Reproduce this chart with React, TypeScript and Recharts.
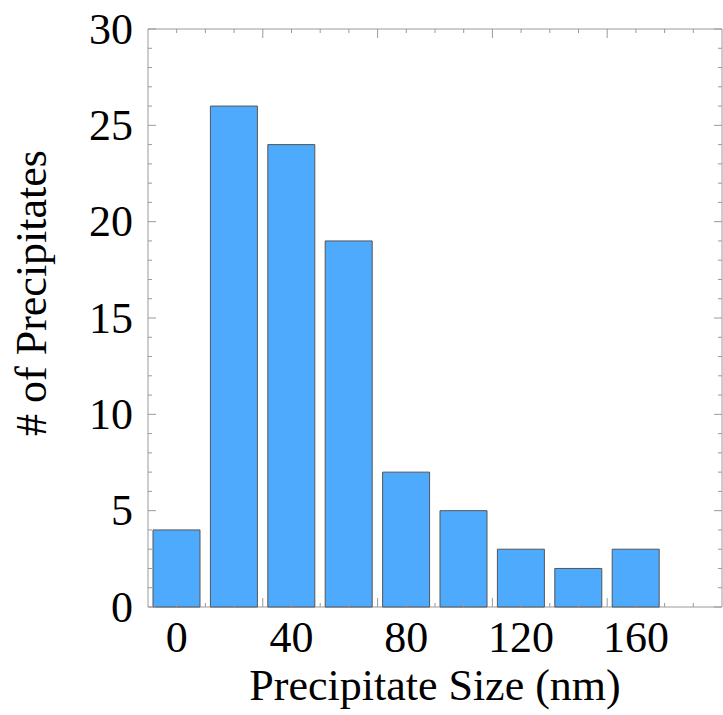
import React from 'react';
import { ComposedChart, Bar, Line, XAxis, YAxis, ReferenceArea, Label } from 'recharts';

// bin centres (nm) and counts; last bin is empty
const sizes = [0, 20, 40, 60, 80, 100, 120, 140, 160, 180];
const counts = [4, 26, 24, 19, 7, 5, 3, 2, 3, null];

const xLabelTicks = [0, 40, 80, 120, 160];
const xFrameTicks = [0, 10, 20, 30, 40, 50, 60, 70, 80, 90, 100, 110, 120, 130, 140, 150, 160, 170, 180];
const xMajorTicks = [30, 70, 110, 150];
const yTicks = [0, 1, 2, 3, 4, 5, 6, 7, 8, 9, 10, 11, 12, 13, 14, 15, 16, 17, 18, 19, 20, 21, 22, 23, 24, 25, 26, 27, 28, 29, 30];

const data = sizes.map((s, i) => ({ size: s, count: counts[i] }));

const W = 723;
const H = 715;
const LEFT = 148;
const RIGHT = 722;
const TOP = 29;
const BOTTOM = 607;
const FONT = '"Liberation Serif", "Times New Roman", serif';
const FRAME = '#9a9a9a';

const YTick = (props: any) => {
  const { y, payload } = props;
  const major = payload.value % 5 === 0;
  const len = major ? 8 : 4;
  return (
    <g>
      <line x1={LEFT} x2={LEFT + len} y1={y} y2={y} stroke={FRAME} />
      <line x1={RIGHT - len} x2={RIGHT} y1={y} y2={y} stroke={FRAME} />
      {major && (
        <text x={133} y={y} textAnchor="end" dominantBaseline="central" fontSize={44} fontFamily={FONT} fill="#000">
          {payload.value}
        </text>
      )}
    </g>
  );
};

const FrameXTick = (props: any) => {
  const { x, payload } = props;
  const len = xMajorTicks.includes(payload.value) ? 9 : 4;
  return (
    <g>
      <line x1={x} x2={x} y1={TOP} y2={TOP + len} stroke={FRAME} />
      <line x1={x} x2={x} y1={BOTTOM - len} y2={BOTTOM} stroke={FRAME} />
    </g>
  );
};

const LabelXTick = (props: any) => {
  const { x, payload } = props;
  if (!xLabelTicks.includes(payload.value)) return null;
  return (
    <text x={x} y={652} textAnchor="middle" fontSize={44} fontFamily={FONT} fill="#000">
      {payload.value}
    </text>
  );
};

export default function App() {
  return (
    <div style={{ position: 'absolute', left: 0, top: 0, background: '#fff' }}>
      <ComposedChart width={W} height={H} data={data} margin={{ top: TOP - 1, right: W - RIGHT, bottom: 0, left: 0 }}>
        <XAxis
          dataKey="size"
          type="category"
          height={H - BOTTOM}
          axisLine={false}
          tickLine={false}
          tick={<LabelXTick />}
          interval={0}
        >
          <Label
            content={() => (
              <text x={(LEFT + RIGHT) / 2} y={700} textAnchor="middle" fontSize={44} fontFamily={FONT} fill="#000">
                Precipitate Size (nm)
              </text>
            )}
          />
        </XAxis>
        <XAxis
          xAxisId="frame"
          dataKey="size"
          type="number"
          orientation="top"
          domain={[-10, 190]}
          ticks={xFrameTicks}
          height={1}
          axisLine={false}
          tickLine={false}
          tick={<FrameXTick />}
          interval={0}
        />
        <YAxis
          domain={[0, 30]}
          ticks={yTicks}
          width={LEFT}
          axisLine={false}
          tickLine={false}
          tick={<YTick />}
          interval={0}
        >
          <Label
            content={() => (
              <text
                x={31}
                y={293}
                transform="rotate(-90 31 293)"
                textAnchor="middle"
                dominantBaseline="central"
                fontSize={44}
                fontFamily={FONT}
                fill="#000"
              >
                # of Precipitates
              </text>
            )}
          />
        </YAxis>
        <ReferenceArea xAxisId="frame" x1={-10} x2={190} y1={0} y2={30} fill="none" stroke={FRAME} strokeWidth={1} ifOverflow="extendDomain" />
        <Bar dataKey="count" barSize={47} fill="#4eaafc" stroke="#555" strokeWidth={1} isAnimationActive={false} />
        <Line xAxisId="frame" dataKey="count" stroke="none" dot={false} activeDot={false} isAnimationActive={false} />
      </ComposedChart>
    </div>
  );
}
